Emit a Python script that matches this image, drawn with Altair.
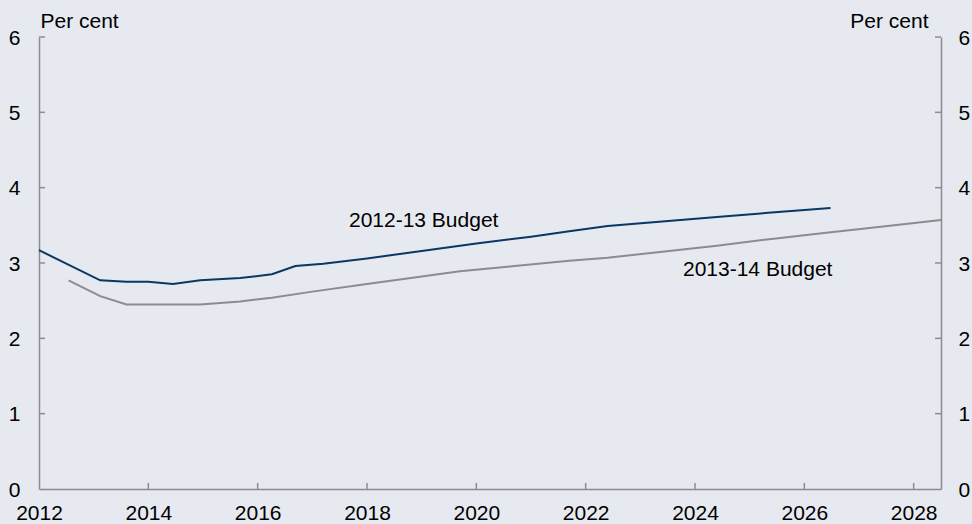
import altair as alt
import pandas as pd

# ---- data ----
years_a = [2012.0, 2013.12, 2013.6, 2014.0, 2014.45, 2014.95, 2015.68, 2016.26, 2016.69, 2017.2,
           2018.0, 2019.0, 2020.0, 2021.0, 2021.7, 2022.4, 2023.4, 2024.4, 2025.4, 2026.48]
vals_a = [3.17, 2.77, 2.75, 2.75, 2.72, 2.77, 2.80, 2.85, 2.96, 2.99,
          3.06, 3.16, 3.26, 3.35, 3.42, 3.49, 3.55, 3.61, 3.67, 3.73]
years_b = [2012.54, 2013.12, 2013.6, 2014.95, 2015.68, 2016.26, 2017.0, 2018.0, 2019.0, 2019.7,
           2020.7, 2021.7, 2022.4, 2023.4, 2024.4, 2025.4, 2026.4, 2027.4, 2028.5]
vals_b = [2.77, 2.56, 2.45, 2.45, 2.49, 2.54, 2.62, 2.72, 2.82, 2.89,
          2.96, 3.03, 3.07, 3.15, 3.23, 3.32, 3.40, 3.48, 3.57]
series_names = ["2012-13 Budget", "2013-14 Budget"]
series_colors = ["#0B3764", "#8C8C8C"]

x_label_years = [2012, 2014, 2016, 2018, 2020, 2022, 2024, 2026, 2028]
x_tick_years = [2014, 2016, 2018, 2020, 2022, 2024, 2026, 2028]
y_label_values = [0, 1, 2, 3, 4, 5, 6]
y_tick_values = [1, 2, 3, 4, 5, 6]

label_text = ["2012-13 Budget", "2013-14 Budget"]
label_x = [2017.67, 2023.78]
label_y = [3.48, 2.83]

# ---- layout ----
W, H = 902, 452
FONT = "Liberation Sans"
FS = 21
AXIS_COLOR = "#8C8C8C"
BG = "#E6E9EF"

df = pd.DataFrame({
    "year": years_a + years_b,
    "value": vals_a + vals_b,
    "series": [series_names[0]] * len(years_a) + [series_names[1]] * len(years_b),
})
yt = pd.DataFrame({"v": y_tick_values})
xt = pd.DataFrame({"year": x_tick_years})
lab = pd.DataFrame({"label": label_text, "year": label_x, "ly": label_y})

xscale = alt.Scale(domain=[2012, 2028.5], nice=False, zero=False)
x_axis = alt.Axis(values=x_label_years, format="d", title=None, ticks=False, tickSize=0,
                  domain=True, domainColor=AXIS_COLOR, domainWidth=1.5,
                  labelPadding=13, labelFontSize=FS, labelFont=FONT, labelColor="#000",
                  grid=False, labelFlush=False)
def ys():
    return alt.Scale(domain=[0, 6], nice=False, zero=True)

X = alt.X("year:Q", scale=xscale, axis=x_axis, title=None)

lines = alt.Chart(df).mark_line(strokeWidth=2).encode(
    x=X,
    y=alt.Y("value:Q", scale=ys(),
            axis=alt.Axis(values=y_label_values, title="Per cent", titleAngle=0, titleAlign="left",
                          titleBaseline="alphabetic", titleX=1, titleY=-10, titleFont=FONT,
                          titleFontSize=FS, titleFontWeight="normal", titleColor="#000",
                          ticks=False, tickSize=0, domain=True, domainColor=AXIS_COLOR,
                          domainWidth=1.5, labelPadding=19, labelOffset=1, labelFontSize=FS,
                          labelFont=FONT, labelColor="#000", grid=False)),
    color=alt.Color("series:N", scale=alt.Scale(domain=series_names, range=series_colors), legend=None),
    order=alt.Order("year:Q"),
)

right_ticks = alt.Chart(yt).mark_rule(color=AXIS_COLOR, strokeWidth=1.5).encode(
    y=alt.Y("v:Q", scale=ys(),
            axis=alt.Axis(orient="right", values=y_label_values, title="Per cent", titleAngle=0,
                          titleAlign="right", titleBaseline="alphabetic", titleX=-13, titleY=-10,
                          titleFont=FONT, titleFontSize=FS, titleFontWeight="normal",
                          titleColor="#000", ticks=False, tickSize=0, domain=True,
                          domainColor=AXIS_COLOR, domainWidth=1.5, labelPadding=17, labelOffset=1,
                          labelFontSize=FS, labelFont=FONT, labelColor="#000", grid=False)),
    x=alt.value(W - 6),
    x2=alt.value(W),
)

left_ticks = alt.Chart(yt).mark_rule(color=AXIS_COLOR, strokeWidth=1.5).encode(
    y=alt.Y("v:Q", scale=ys(), axis=None),
    x=alt.value(0),
    x2=alt.value(6),
)

x_ticks = alt.Chart(xt).mark_rule(color=AXIS_COLOR, strokeWidth=1.5).encode(
    x=X,
    y=alt.value(H),
    y2=alt.value(H - 6),
)

labels = alt.Chart(lab).mark_text(align="left", baseline="alphabetic", font=FONT,
                                  fontSize=FS, color="#000").encode(
    x=X,
    y=alt.Y("ly:Q", scale=ys(), axis=None),
    text="label:N",
)

chart = alt.layer(lines, left_ticks, x_ticks, labels, right_ticks).resolve_scale(
    y="independent"
).properties(
    width=W, height=H, background=BG,
    autosize=alt.AutoSizeParams(type="none"),
    padding={"left": 39, "top": 37, "right": 31, "bottom": 35},
).configure_view(strokeWidth=0)

chart.save("out.html", embed_options={"renderer": "svg", "actions": False})
